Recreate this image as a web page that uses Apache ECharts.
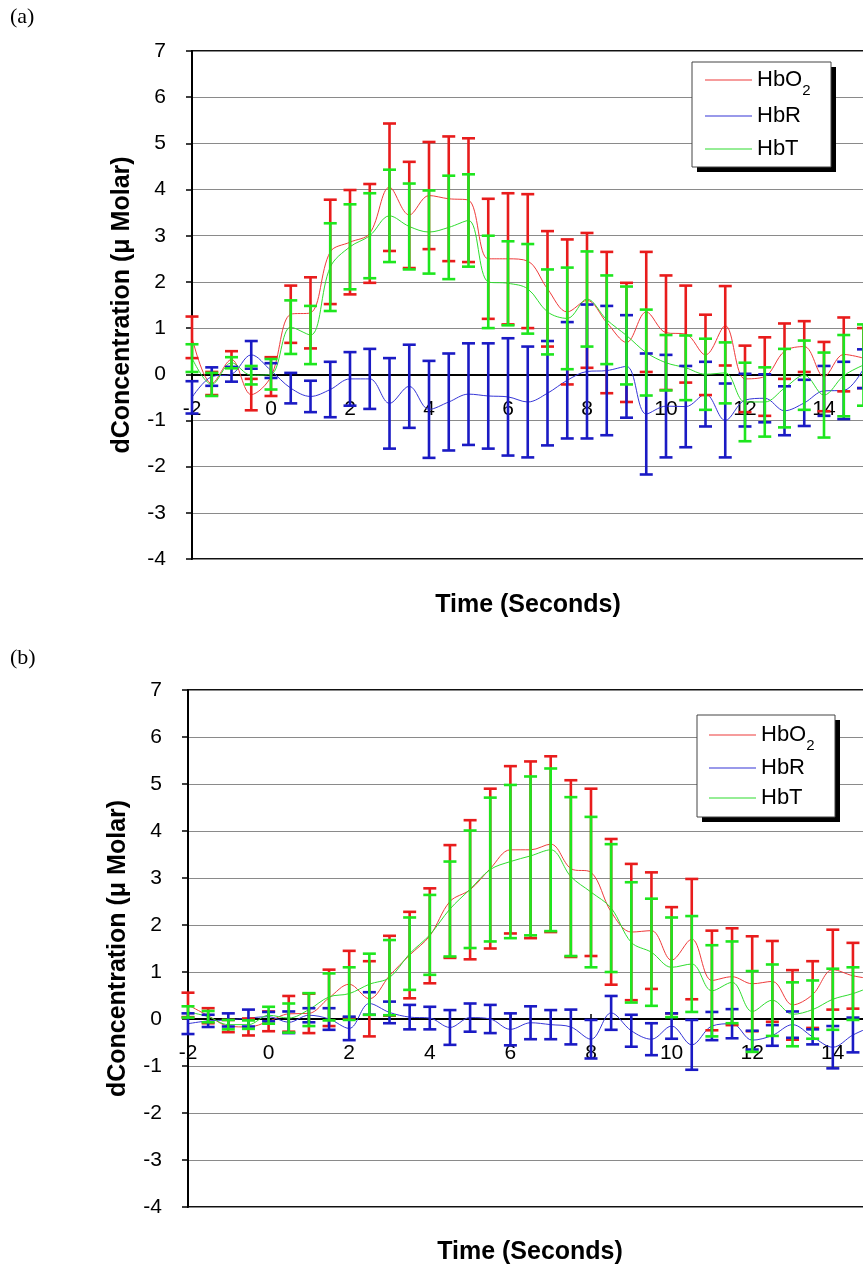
<!DOCTYPE html>
<html><head><meta charset="utf-8">
<script src="https://cdn.jsdelivr.net/npm/echarts@6/dist/echarts.min.js"></script>
<style>html,body{margin:0;padding:0;background:#fff}#c{width:863px;height:1268px}</style>
</head><body><div id="c"></div>
<script>
// Time points (seconds) at which the error bars are drawn
const time = [-2,-1.5,-1,-0.5,0,0.5,1,1.5,2,2.5,3,3.5,4,4.5,5,5.5,6,6.5,7,7.5,8,8.5,9,9.5,10,10.5,11,11.5,12,12.5,13,13.5,14,14.5,15];

// Panel (a)
const aHbO2    = [0.8,-0.2,0.32,-0.44,-0.05,1.3,1.33,2.65,2.86,3.05,4.05,3.45,3.87,3.8,3.77,2.5,2.5,2.45,1.85,1.35,1.6,1.12,0.69,1.35,0.9,0.87,0.42,1.05,-0.1,-0.05,0.5,0.6,-0.05,0.43,0.35];
const aHbO2Err = [0.45,0.25,0.18,0.34,0.42,0.62,0.77,1.13,1.13,1.07,1.38,1.15,1.16,1.35,1.34,1.3,1.42,1.45,1.25,1.57,1.46,1.53,1.29,1.3,1.24,1.05,0.87,0.86,0.72,0.85,0.6,0.55,0.75,0.8,0.65];
const aHbR     = [-0.5,-0.05,0.0,0.42,0.08,-0.3,-0.48,-0.33,-0.1,-0.1,-0.63,-0.26,-0.76,-0.6,-0.43,-0.47,-0.49,-0.6,-0.41,-0.13,0.06,0.08,0.17,-0.86,-0.69,-0.7,-0.43,-1.0,-0.56,-0.52,-0.79,-0.62,-0.36,-0.35,0.12];
const aHbRErr  = [0.35,0.2,0.16,0.3,0.16,0.33,0.34,0.6,0.58,0.65,0.98,0.9,1.05,1.05,1.1,1.14,1.27,1.2,1.13,1.26,1.45,1.4,1.11,1.31,1.11,0.88,0.7,0.8,0.57,0.52,0.53,0.5,0.54,0.62,0.42];
const aHbT     = [0.35,-0.22,0.25,-0.02,0.0,1.02,0.85,2.32,2.76,3.0,3.43,3.2,3.08,3.18,3.33,2.0,1.97,1.85,1.35,1.21,1.63,1.18,0.84,0.47,0.25,0.14,0.0,0.03,-0.6,-0.6,-0.3,-0.02,-0.45,-0.03,0.2];
const aHbTErr  = [0.3,0.25,0.12,0.2,0.33,0.58,0.63,0.95,0.92,0.92,1.0,0.93,0.9,1.12,1.0,1.0,0.91,0.97,0.92,1.1,1.03,0.96,1.06,0.93,0.6,0.7,0.77,0.66,0.85,0.75,0.85,0.75,0.92,0.88,0.88];

// Panel (b)
const bHbO2    = [0.3,0.07,-0.15,-0.17,-0.05,0.11,0.12,0.45,0.74,0.43,0.92,1.36,1.77,2.5,2.75,3.2,3.6,3.6,3.72,3.2,3.12,2.28,1.85,1.88,1.25,1.7,0.82,0.9,0.75,0.8,0.3,0.52,1.05,0.92,0.85];
const bHbO2Err = [0.26,0.16,0.13,0.18,0.21,0.38,0.42,0.6,0.71,0.8,0.85,0.92,1.01,1.2,1.48,1.7,1.78,1.88,1.87,1.88,1.78,1.55,1.45,1.24,1.13,1.28,1.06,1.03,1.01,0.86,0.74,0.71,0.85,0.7,0.6];
const bHbR     = [-0.1,-0.04,-0.02,0.02,0.05,-0.07,0.08,0.0,-0.2,0.33,0.14,0.04,0.02,-0.18,0.03,0.0,-0.22,-0.08,-0.12,-0.17,-0.43,0.13,-0.25,-0.43,-0.15,-0.55,-0.15,-0.1,-0.45,-0.35,-0.12,-0.38,-0.6,-0.34,-0.15];
const bHbRErr  = [0.22,0.13,0.14,0.18,0.1,0.23,0.15,0.23,0.25,0.24,0.23,0.26,0.24,0.37,0.3,0.3,0.34,0.35,0.31,0.37,0.41,0.36,0.34,0.34,0.27,0.53,0.3,0.31,0.2,0.22,0.28,0.16,0.45,0.37,0.3];
const bHbT     = [0.15,0.05,-0.12,-0.12,0.08,0.02,0.2,0.47,0.54,0.74,0.88,1.39,1.79,2.34,2.76,3.18,3.35,3.47,3.6,3.03,2.7,2.36,1.63,1.42,1.1,1.17,0.6,0.78,0.16,0.4,0.1,0.2,0.42,0.54,0.7];
const bHbTErr  = [0.12,0.12,0.1,0.09,0.18,0.31,0.35,0.5,0.56,0.65,0.8,0.77,0.85,1.01,1.25,1.53,1.63,1.69,1.73,1.69,1.6,1.36,1.28,1.14,1.06,1.02,0.97,0.87,0.86,0.76,0.68,0.62,0.65,0.56,0.55];

const names = ['HbO2','HbR','HbT'];
const lineColors = {HbO2:'#ee3b3b', HbR:'#3535d6', HbT:'#2fdc2f'};
const barColors  = {HbO2:'#e81c1c', HbR:'#1a1ac4', HbT:'#1ee61e'};
const FONT = 'Liberation Sans, Arial, sans-serif';

const panels = [
  {HbO2:[aHbO2,aHbO2Err], HbR:[aHbR,aHbRErr], HbT:[aHbT,aHbTErr]},
  {HbO2:[bHbO2,bHbO2Err], HbR:[bHbR,bHbRErr], HbT:[bHbT,bHbTErr]}
];

function errRender(color){
  return function(params, api){
    const x = api.value(0), lo = api.value(1), hi = api.value(2);
    const p1 = api.coord([x, hi]), p2 = api.coord([x, lo]);
    const hw = 6.5;
    const st = {stroke: color, lineWidth: 2.6};
    return {type:'group', children:[
      {type:'line', shape:{x1:p1[0], y1:p1[1], x2:p2[0], y2:p2[1]}, style:st},
      {type:'line', shape:{x1:p1[0]-hw, y1:p1[1], x2:p1[0]+hw, y2:p1[1]}, style:st},
      {type:'line', shape:{x1:p2[0]-hw, y1:p2[1], x2:p2[0]+hw, y2:p2[1]}, style:st}
    ]};
  };
}

const series = [];
panels.forEach((p, pi) => {
  names.forEach(n => {
    const mean = p[n][0], err = p[n][1];
    series.push({
      type:'line', name:n, xAxisIndex:pi, yAxisIndex:pi,
      data: time.map((t,i)=>[t, mean[i]]),
      smooth:0.35, symbol:'none', showSymbol:false,
      lineStyle:{color:lineColors[n], width:1}, itemStyle:{color:lineColors[n]},
      z:2, animation:false, silent:true
    });
    series.push({
      type:'custom', name:n+' error', xAxisIndex:pi, yAxisIndex:pi,
      data: time.map((t,i)=>[t, mean[i]-err[i], mean[i]+err[i]]),
      renderItem: errRender(barColors[n]),
      encode:{x:0, y:[1,2]}, z:3, animation:false, silent:true
    });
  });
});

// Plot areas (the right part runs past the edge of the page, as in the figure)
const grids = [
  {left:192, top:51, width:790, height:508},
  {left:188, top:690, width:806, height:517}
];
const yMin = -4, yMax = 7;

function legendFor(left, top, gap){
  return {
    show:true, orient:'vertical', left:left, top:top, z:6,
    data: names, itemWidth:47, itemHeight:1, itemGap:gap, icon:'rect',
    backgroundColor:'transparent', borderWidth:0, padding:0,
    selectedMode:false,
    formatter: n => n==='HbO2' ? '{m|HbO}{s|2}' : '{m|'+n+'}',
    textStyle:{fontFamily:FONT, fontSize:22, lineHeight:30, color:'#000',
      rich:{ m:{fontFamily:FONT, fontSize:22, lineHeight:30, color:'#000'},
             s:{fontFamily:FONT, fontSize:15, lineHeight:8, padding:[18,0,0,0], verticalAlign:'top', color:'#000'} }
    }
  };
}

function legendBox(x, y, w, h){
  return [
    {type:'rect', z:5, shape:{x:x+5, y:y+5, width:w, height:h}, style:{fill:'#000'}},
    {type:'rect', z:5, shape:{x:x, y:y, width:w, height:h}, style:{fill:'#fff', stroke:'#444', lineWidth:1}}
  ];
}

const chart = echarts.init(document.getElementById('c'), null, {renderer:'canvas'});
chart.setOption({
  animation:false,
  backgroundColor:'#fff',
  grid: grids.map(g => Object.assign({show:true, borderColor:'#111', borderWidth:2, backgroundColor:'#fff', outerBoundsMode:'none', containLabel:false}, g)),
  xAxis: [0,1].map(i => ({
    type:'value', gridIndex:i, min:-2, max:18, interval:2, z:1,
    offset: -grids[i].height * (0 - yMin) / (yMax - yMin),
    axisLine:{show:true, onZero:false, lineStyle:{color:'#000', width:2}},
    axisTick:{show:true, inside:true, length:5, lineStyle:{color:'#000', width:1.5}},
    axisLabel:{fontFamily:FONT, fontSize:21, color:'#000', margin:24},
    splitLine:{show:false}
  })),
  yAxis: [0,1].map(i => ({
    type:'value', gridIndex:i, min:yMin, max:yMax, interval:1,
    name:'dConcentration (\u03bc Molar)', nameLocation:'middle', nameRotate:90, nameGap:57,
    nameTextStyle:{fontFamily:FONT, fontSize:25, fontWeight:'bold', color:'#000'},
    axisLine:{show:true, onZero:false, lineStyle:{color:'#000', width:2}},
    axisTick:{show:true, inside:false, length:6, lineStyle:{color:'#000', width:1.5}},
    axisLabel:{fontFamily:FONT, fontSize:21, color:'#000', margin:26},
    splitLine:{show:true, lineStyle:{color:'#8a8a8a', width:1}}
  })),
  legend:[legendFor(705, 65, 3), legendFor(709, 720, 0)],
  graphic:[].concat(
    legendBox(692, 62, 139, 105),
    legendBox(697, 715, 138, 102),
    [
    {type:'text', left:10, top:6, style:{text:'(a)', font:'22px "Liberation Serif", serif', fill:'#000'}},
    {type:'text', left:10, top:647, style:{text:'(b)', font:'22px "Liberation Serif", serif', fill:'#000'}},
    {type:'text', x:528, y:605, style:{text:'Time (Seconds)', font:'bold 25px "Liberation Sans", Arial, sans-serif', fill:'#000', align:'center', verticalAlign:'middle'}},
    {type:'text', x:530, y:1252, style:{text:'Time (Seconds)', font:'bold 25px "Liberation Sans", Arial, sans-serif', fill:'#000', align:'center', verticalAlign:'middle'}}
    ]),
  series: series
});
</script></body></html>
